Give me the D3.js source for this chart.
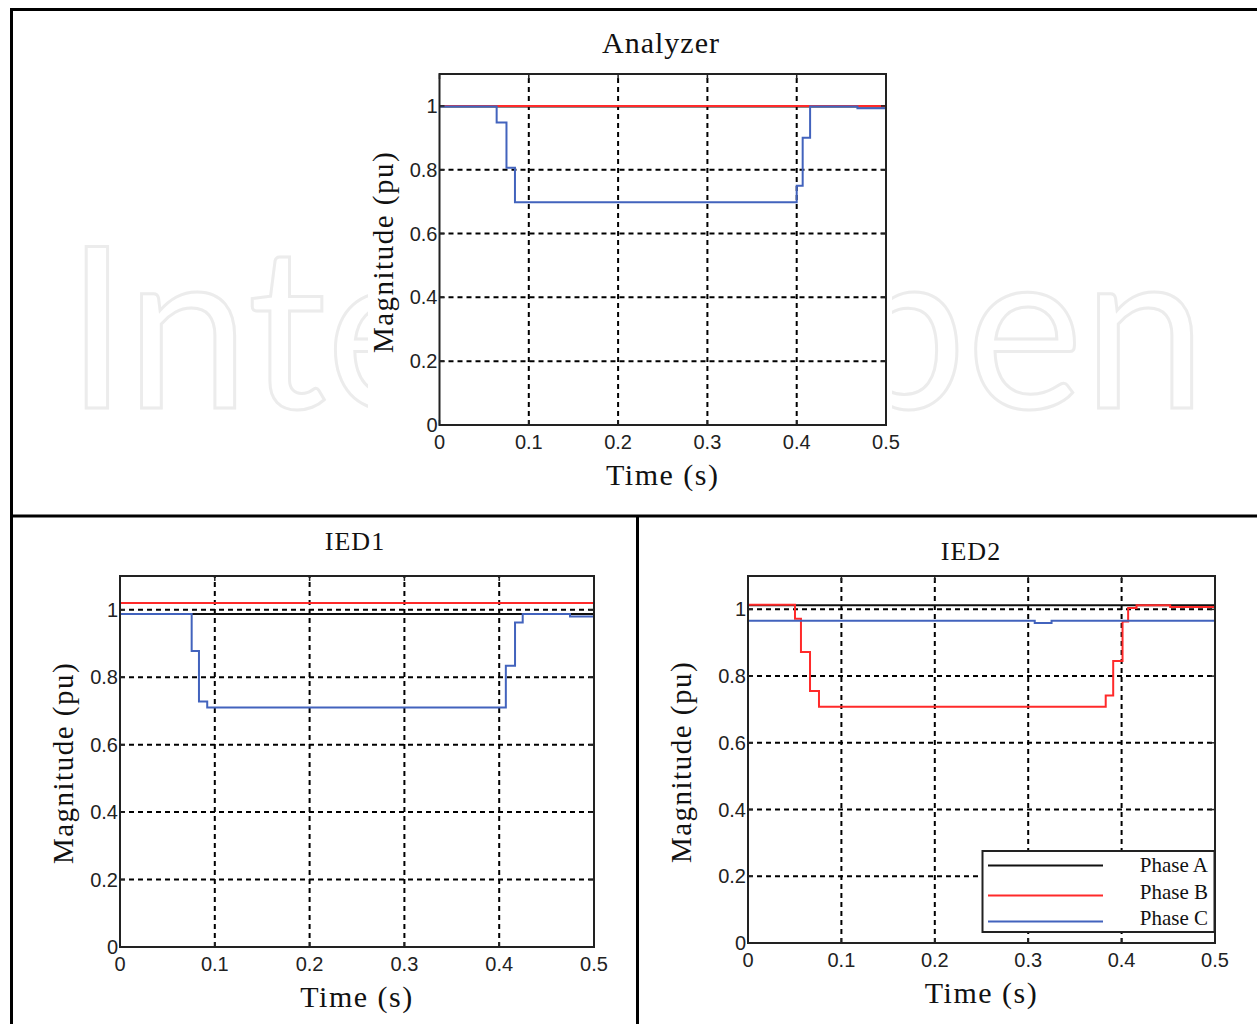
<!DOCTYPE html>
<html>
<head>
<meta charset="utf-8">
<script src="https://cdn.jsdelivr.net/npm/d3@7"></script>
<style>
  body { margin: 0; background: #fff; }
  svg { display: block; }
  .tick-label { font-family: "Liberation Sans", Arial, sans-serif; font-size: 20px; fill: #222; }
  .serif { font-family: "Liberation Serif", "Times New Roman", serif; fill: #111; }
</style>
</head>
<body>
<svg id="fig" width="1257" height="1024"></svg>
<script>
// tick values shared by all three panels
var xTicks = [0, 0.1, 0.2, 0.3, 0.4, 0.5];
var yTicks = [0, 0.2, 0.4, 0.6, 0.8, 1];
var tickText = ["0", "0.1", "0.2", "0.3", "0.4", "0.5"];
var yTickText = ["0", "0.2", "0.4", "0.6", "0.8", "1"];
var phaseNames = ["Phase A", "Phase B", "Phase C"];

// Analyzer (step data: time where each level starts)
var anaTimeA = [0, 0.5];
var anaPhaseA = [0.998, 0.998];
var anaTimeB = [0, 0.5];
var anaPhaseB = [1.0, 1.0];
var anaTimeC = [0, 0.064, 0.075, 0.0845, 0.400, 0.4067, 0.415, 0.468, 0.5];
var anaPhaseC = [0.998, 0.948, 0.806, 0.698, 0.75, 0.90, 0.998, 0.993, 0.993];

// IED1
var ied1TimeA = [0, 0.5];
var ied1PhaseA = [0.987, 0.987];
var ied1TimeB = [0, 0.5];
var ied1PhaseB = [1.02, 1.02];
var ied1TimeC = [0, 0.0756, 0.0833, 0.092, 0.407, 0.4167, 0.4248, 0.4747, 0.5];
var ied1PhaseC = [0.987, 0.878, 0.728, 0.71, 0.834, 0.962, 0.987, 0.98, 0.98];

// IED2
var ied2TimeA = [0, 0.5];
var ied2PhaseA = [1.012, 1.012];
var ied2TimeB = [0, 0.0503, 0.0567, 0.0664, 0.076, 0.383, 0.391, 0.401, 0.407, 0.416, 0.452, 0.5];
var ied2PhaseB = [1.014, 0.972, 0.872, 0.755, 0.708, 0.742, 0.845, 0.964, 1.004, 1.012, 1.007, 1.007];
var ied2TimeC = [0, 0.307, 0.325, 0.5];
var ied2PhaseC = [0.966, 0.959, 0.966, 0.966];

var colors = ["#111111", "#ff2a2a", "#4263bd"];

var svg = d3.select("#fig");
svg.append("rect").attr("width", 1257).attr("height", 1024).attr("fill", "#fff");

// faint watermark behind everything
svg.append("text")
    .attr("x", 66).attr("y", 408)
    .attr("textLength", 1140)
    .attr("lengthAdjust", "spacingAndGlyphs")
    .style("font-family", "Lato, 'Open Sans', sans-serif")
    .style("font-size", "225px")
    .style("font-weight", "400")
    .attr("fill", "none")
    .attr("stroke", "#ececec")
    .attr("stroke-width", 3)
    .text("IntechOpen");

// the analyzer picture covers the middle of the watermark
svg.append("rect").attr("x", 368).attr("y", 14).attr("width", 524).attr("height", 498).attr("fill", "#fff");

// frame lines
var frame = svg.append("g").attr("stroke", "#000").attr("stroke-width", 3);
frame.append("line").attr("x1", 11).attr("y1", 9.5).attr("x2", 1257).attr("y2", 9.5);
frame.append("line").attr("x1", 11.5).attr("y1", 8).attr("x2", 11.5).attr("y2", 1024);
frame.append("line").attr("x1", 11).attr("y1", 516).attr("x2", 1257).attr("y2", 516);
frame.append("line").attr("x1", 637.5).attr("y1", 515).attr("x2", 637.5).attr("y2", 1024);

function drawPanel(p) {
    var x = d3.scaleLinear().domain([0, 0.5]).range([p.left, p.right]);
    var y = d3.scaleLinear().domain([0, 1.1]).range([p.bottom, p.top]);
    var g = svg.append("g");

    // dashed grid
    var grid = g.append("g").attr("stroke", "#000").attr("stroke-width", 2).attr("stroke-dasharray", "5,4");
    grid.selectAll(".gx").data(xTicks.slice(1, 5)).enter().append("line")
        .attr("x1", d => x(d)).attr("x2", d => x(d))
        .attr("y1", p.bottom).attr("y2", p.top);
    grid.selectAll(".gy").data(yTicks.slice(1)).enter().append("line")
        .attr("x1", p.left).attr("x2", p.right)
        .attr("y1", d => y(d)).attr("y2", d => y(d));

    // step lines
    var line = d3.line().x(d => x(d[0])).y(d => y(d[1])).curve(d3.curveStepAfter);
    p.series.forEach(function (s, i) {
        var pts = s.t.map((t, j) => [t, s.v[j]]);
        g.append("path").datum(pts)
            .attr("d", line)
            .attr("fill", "none")
            .attr("stroke", colors[i])
            .attr("stroke-width", 2);
    });

    // axes box with inward ticks
    g.append("rect")
        .attr("x", p.left).attr("y", p.top)
        .attr("width", p.right - p.left).attr("height", p.bottom - p.top)
        .attr("fill", "none").attr("stroke", "#222").attr("stroke-width", 2);
    var tk = g.append("g").attr("stroke", "#222").attr("stroke-width", 1.5);
    xTicks.forEach(function (d) {
        tk.append("line").attr("x1", x(d)).attr("x2", x(d)).attr("y1", p.bottom).attr("y2", p.bottom - 5);
        tk.append("line").attr("x1", x(d)).attr("x2", x(d)).attr("y1", p.top).attr("y2", p.top + 5);
    });
    yTicks.forEach(function (d) {
        tk.append("line").attr("x1", p.left).attr("x2", p.left + 5).attr("y1", y(d)).attr("y2", y(d));
        tk.append("line").attr("x1", p.right).attr("x2", p.right - 5).attr("y1", y(d)).attr("y2", y(d));
    });

    // tick labels
    g.selectAll(".xl").data(xTicks).enter().append("text")
        .attr("class", "tick-label")
        .attr("x", d => x(d)).attr("y", p.bottom + 24)
        .attr("text-anchor", "middle")
        .text((d, i) => tickText[i]);
    g.selectAll(".yl").data(yTicks).enter().append("text")
        .attr("class", "tick-label")
        .attr("x", p.left - 2).attr("y", d => y(d) + 7)
        .attr("text-anchor", "end")
        .text((d, i) => yTickText[i]);

    // title and axis labels
    g.append("text").attr("class", "serif")
        .attr("x", p.titleX).attr("y", p.titleY)
        .attr("text-anchor", "middle")
        .style("font-size", p.titleSize + "px").style("letter-spacing", "1px")
        .text(p.title);
    g.append("text").attr("class", "serif")
        .attr("x", (p.left + p.right) / 2).attr("y", p.bottom + 60)
        .attr("text-anchor", "middle")
        .style("font-size", "30px").style("letter-spacing", "1.5px")
        .text("Time (s)");
    g.append("text").attr("class", "serif")
        .attr("transform", "translate(" + p.ylabX + "," + p.ylabY + ") rotate(-90)")
        .attr("text-anchor", "middle")
        .style("font-size", "29px").style("letter-spacing", "1.5px")
        .text("Magnitude (pu)");

    return g;
}

drawPanel({
    left: 439.5, right: 886, top: 74, bottom: 425,
    title: "Analyzer", titleX: 661, titleY: 53, titleSize: 30,
    ylabX: 393, ylabY: 252,
    series: [
        { t: anaTimeA, v: anaPhaseA },
        { t: anaTimeB, v: anaPhaseB },
        { t: anaTimeC, v: anaPhaseC }
    ]
});

drawPanel({
    left: 120, right: 594, top: 576, bottom: 947,
    title: "IED1", titleX: 355, titleY: 550, titleSize: 26,
    ylabX: 73, ylabY: 763,
    series: [
        { t: ied1TimeA, v: ied1PhaseA },
        { t: ied1TimeB, v: ied1PhaseB },
        { t: ied1TimeC, v: ied1PhaseC }
    ]
});

var ied2 = drawPanel({
    left: 748, right: 1215, top: 576, bottom: 943,
    title: "IED2", titleX: 971, titleY: 560, titleSize: 26,
    ylabX: 691, ylabY: 762,
    series: [
        { t: ied2TimeA, v: ied2PhaseA },
        { t: ied2TimeB, v: ied2PhaseB },
        { t: ied2TimeC, v: ied2PhaseC }
    ]
});

// legend in IED2
var legend = ied2.append("g");
legend.append("rect")
    .attr("x", 982.5).attr("y", 851).attr("width", 232).attr("height", 81)
    .attr("fill", "#fff").attr("stroke", "#222").attr("stroke-width", 2);
var legY = [865.5, 895.5, 921.5];
phaseNames.forEach(function (name, i) {
    legend.append("line")
        .attr("x1", 988).attr("x2", 1103)
        .attr("y1", legY[i]).attr("y2", legY[i])
        .attr("stroke", colors[i]).attr("stroke-width", 2);
    legend.append("text").attr("class", "serif")
        .attr("x", 1208).attr("y", legY[i] + 6 - (i == 0 ? 0 : 3))
        .attr("text-anchor", "end")
        .style("font-size", "21px")
        .text(name);
});
</script>
</body>
</html>
